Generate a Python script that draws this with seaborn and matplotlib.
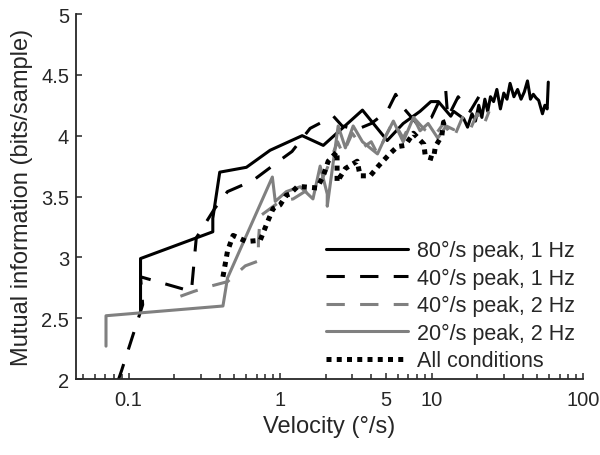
import matplotlib
matplotlib.use("Agg")
import matplotlib.pyplot as plt
import seaborn as sns
import numpy as np
import pandas as pd
from matplotlib.ticker import FixedLocator, FixedFormatter, NullFormatter

# ---- data ----
labels = ["80°/s peak, 1 Hz", "40°/s peak, 1 Hz", "40°/s peak, 2 Hz",
          "20°/s peak, 2 Hz", "All conditions"]

s1_x = [0.12, 0.12, 0.36, 0.36, 0.40, 0.60, 0.86, 1.4, 1.93, 3.5, 5.1, 6.5, 8.4,
        9.9, 11.1, 13.4, 14.0, 16.3, 17.3, 18.5, 19.5, 20.5, 21.5, 22.5, 23.5,
        24.5, 25.7, 27, 28.5, 30, 31.5, 33, 35, 37, 39, 41, 43, 45, 47, 49, 51,
        54, 56, 58, 59]
s1_y = [2.57, 2.99, 3.21, 3.32, 3.70, 3.74, 3.88, 4.00, 3.92, 4.21, 3.96, 4.10,
        4.20, 4.28, 4.28, 4.16, 4.20, 4.14, 4.07, 4.18, 4.12, 4.25, 4.15, 4.30,
        4.20, 4.32, 4.28, 4.38, 4.22, 4.35, 4.30, 4.43, 4.32, 4.38, 4.30, 4.36,
        4.45, 4.30, 4.34, 4.31, 4.29, 4.18, 4.25, 4.22, 4.44]

s2_x = [0.085, 0.09, 0.124, 0.12, 0.26, 0.28, 0.37, 0.45, 0.66, 1.03, 1.2, 1.58,
        2.25, 2.57, 3.2, 4.0, 5.1, 5.8, 6.4, 8.0, 10.0, 12.0, 12.4, 12.8, 15.0,
        16.3, 18.0, 21.0, 22.0]
s2_y = [1.98, 2.07, 2.61, 2.84, 2.72, 3.16, 3.40, 3.54, 3.63, 3.81, 3.87, 4.06,
        4.16, 4.08, 4.05, 4.10, 4.20, 4.34, 4.24, 4.10, 4.15, 4.36, 4.38, 4.15,
        4.32, 4.25, 4.20, 4.34, 4.30]

s3_x = [0.22, 0.27, 0.34, 0.45, 0.59, 0.72, 0.72, 0.74, 1.0, 1.22, 1.5, 1.8, 2.0,
        2.4, 2.6, 3.0, 3.5, 4.0, 4.4, 5.0, 5.6, 6.5, 7.6, 9, 10.5, 12, 14, 16,
        18, 20, 22, 24]
s3_y = [2.68, 2.72, 2.76, 2.80, 2.93, 2.97, 3.13, 3.34, 3.46, 3.48, 3.55, 3.60,
        3.70, 3.95, 3.85, 4.02, 3.90, 3.95, 3.85, 4.00, 4.12, 3.98, 4.15, 4.05,
        4.00, 4.10, 3.98, 4.15, 4.05, 4.18, 4.08, 4.20]

s4_x = [0.071, 0.071, 0.42, 0.45, 0.89, 0.93, 1.1, 1.36, 1.65, 1.84, 2.05, 2.05,
        2.42, 2.7, 3.04, 3.5, 4.4, 5.0, 5.6, 6.5, 7.6, 8.4, 9.5, 11, 12.5, 14]
s4_y = [2.27, 2.52, 2.60, 2.83, 3.66, 3.46, 3.54, 3.58, 3.48, 3.75, 3.52, 3.42,
        4.08, 3.90, 4.08, 3.95, 3.85, 4.00, 4.12, 3.95, 4.15, 4.04, 4.10, 3.98,
        4.08, 4.05]

s5_x = [0.42, 0.45, 0.49, 0.6, 0.74, 0.82, 0.9, 1.0, 1.1, 1.16, 1.3, 1.42, 1.76,
        1.93, 2.08, 2.38, 2.38, 2.7, 3.23, 3.38, 3.94, 4.46, 5.2, 5.95, 6.7, 7.6,
        8.9, 9.1, 10.3, 10.6, 11.7, 12.0, 12.7]
s5_y = [2.84, 3.05, 3.18, 3.13, 3.14, 3.28, 3.40, 3.43, 3.51, 3.52, 3.58, 3.58,
        3.57, 3.67, 3.79, 3.87, 3.62, 3.73, 3.79, 3.67, 3.67, 3.75, 3.84, 3.91,
        3.92, 4.02, 3.93, 3.83, 3.81, 3.91, 4.00, 4.11, 4.12]

xtick_vals = [0.1, 1, 5, 10, 100]
xtick_labels = ["0.1", "1", "5", "10", "100"]
ytick_vals = [2, 2.5, 3, 3.5, 4, 4.5, 5]
ytick_labels = ["2", "2.5", "3", "3.5", "4", "4.5", "5"]

# ---- plotting ----
sns.set_theme(style="white")
plt.rcParams['font.family'] = ['Liberation Sans', 'DejaVu Sans']

fig = plt.figure(figsize=(6.0, 4.56), dpi=100)
ax = fig.add_axes([76/600, 1-380/456, (583-76)/600, (380-15)/456])

gray = "#808080"
styles = [
    dict(color="black", linewidth=2.2, linestyle="-"),
    dict(color="black", linewidth=2.2, linestyle=(0, (6, 5))),
    dict(color=gray, linewidth=2.2, linestyle=(0, (6, 5))),
    dict(color=gray, linewidth=2.2, linestyle="-"),
    dict(color="black", linewidth=3.6, linestyle=(0, (1, 1.05))),
]
series = [(s1_x, s1_y), (s2_x, s2_y), (s3_x, s3_y), (s4_x, s4_y), (s5_x, s5_y)]

for (xs, ys), lab, st in zip(series, labels, styles):
    df = pd.DataFrame({"v": xs, "mi": ys})
    sns.lineplot(data=df, x="v", y="mi", sort=False, estimator=None, ax=ax,
                 label=lab, **st)

ax.set_xscale("log")
ax.set_xlim(0.045, 100)
ax.set_ylim(2, 5)

ax.xaxis.set_major_locator(FixedLocator(xtick_vals))
ax.xaxis.set_major_formatter(FixedFormatter(xtick_labels))
minor = [m * d for d in [0.01, 0.1, 1, 10] for m in range(2, 10)]
minor = [v for v in minor if v not in xtick_vals]
ax.xaxis.set_minor_locator(FixedLocator(minor))
ax.xaxis.set_minor_formatter(NullFormatter())
ax.yaxis.set_major_locator(FixedLocator(ytick_vals))
ax.yaxis.set_major_formatter(FixedFormatter(ytick_labels))

for side in ["top", "right"]:
    ax.spines[side].set_visible(False)
for side in ["left", "bottom"]:
    ax.spines[side].set_color("#262626")
    ax.spines[side].set_linewidth(1.3)

ax.tick_params(axis="both", which="both", direction="in", colors="#262626",
               labelcolor="#262626", labelsize=14.5, bottom=True, left=True,
               top=False, right=False)
ax.tick_params(axis="both", which="major", length=4.5, width=1.1, pad=5)
ax.tick_params(axis="x", which="minor", length=3.5, width=1.1)
ax.tick_params(axis="x", which="major", pad=8)

ax.set_xlabel("Velocity (°/s)", fontsize=17, color="#262626", labelpad=4)
ax.set_ylabel("Mutual information (bits/sample)", fontsize=17, color="#262626",
              labelpad=6)

leg = ax.legend(loc="lower right", bbox_to_anchor=(1.0, 0.0), frameon=False,
                fontsize=15.5, handlelength=3.8, handletextpad=0.45,
                labelspacing=0.3, borderaxespad=0.0, borderpad=0.35)
for t in leg.get_texts():
    t.set_color("#262626")

fig.savefig("out.png", dpi=100)
